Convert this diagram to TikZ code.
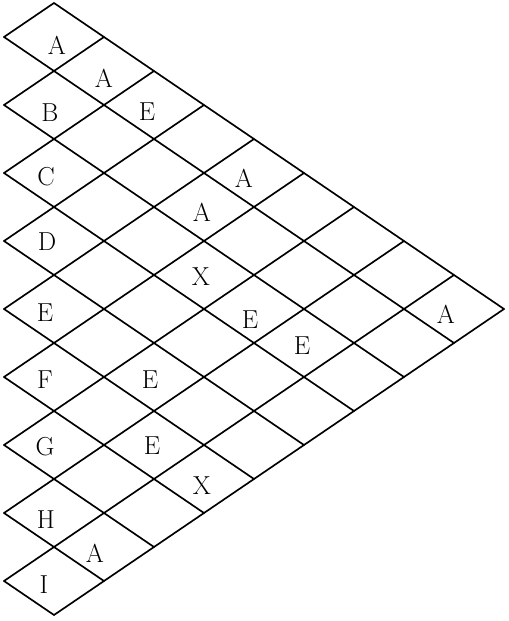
\documentclass[tikz,border=0pt]{standalone}
\begin{document}
\begin{tikzpicture}[x=0.75pt,y=-0.75pt,
  gridline/.style={line width=1.25pt, line cap=round, line join=round},
  lab/.style={font=\fontsize{19.5}{23}\selectfont, inner sep=0pt}]
\useasboundingbox (0,0) rectangle (508,621);
% lattice point P(a,b) = (54+50(a-b), 3+34(a+b))
\foreach \k in {0,...,9} {
  \pgfmathtruncatemacro{\s}{max(\k-1,0)}
  \pgfmathtruncatemacro{\e}{min(\k+1,9)}
  \draw[gridline] ({54+50*(\s-\k)},{3+34*(\s+\k)}) -- ({54+50*(9-\k)},{3+34*(9+\k)});
  \draw[gridline] ({54+50*\k},{3+34*\k}) -- ({54+50*(\k-\e)},{3+34*(\k+\e)});
}
% labels
\node[lab] (l01) at (57,45) {A};
\node[lab] (l02) at (104,78) {A};
\node[lab] (l11) at (50,113) {B};
\node[lab] (l03) at (147,112) {E};
\node[lab] (l21) at (46,177) {C};
\node[lab] (l05) at (244,178) {A};
\node[lab] (l14) at (202,212) {A};
\node[lab] (l31) at (47,242) {D};
\node[lab] (l24) at (201,277) {X};
\node[lab] (l41) at (45,313) {E};
\node[lab] (l25) at (250,320) {E};
\node[lab] (l09) at (446,314) {A};
\node[lab] (l26) at (302,346) {E};
\node[lab] (l51) at (45,380) {F};
\node[lab] (l43) at (150,380) {E};
\node[lab] (l61) at (45,447) {G};
\node[lab] (l53) at (152,446) {E};
\node[lab] (l54) at (202,486) {X};
\node[lab] (l71) at (46,520) {H};
\node[lab] (l72) at (95,553) {A};
\node[lab] (l81) at (44,585) {I};
\end{tikzpicture}
\end{document}
